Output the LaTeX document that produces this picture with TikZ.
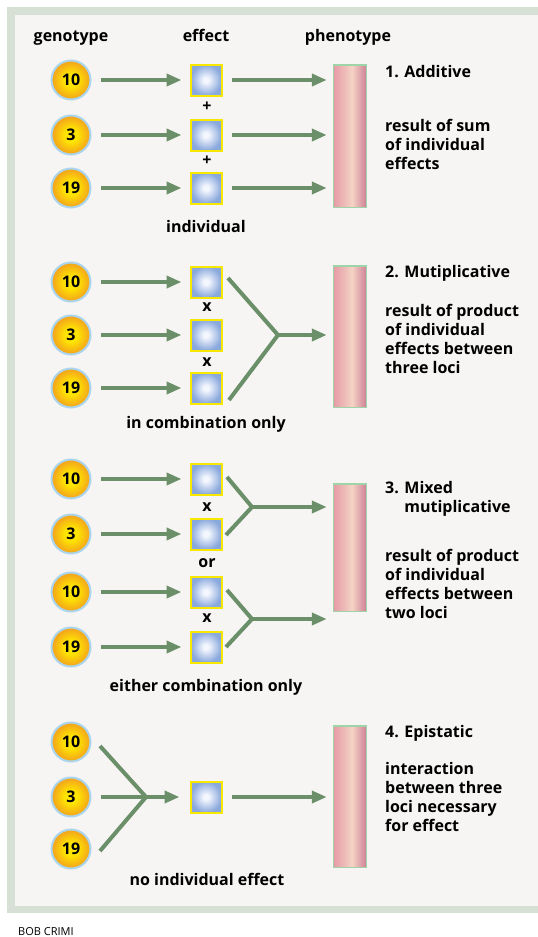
\documentclass[tikz,border=0pt]{standalone}
\usepackage{fontspec}
\setmainfont{Open Sans}
\usetikzlibrary{arrows.meta}

\definecolor{framegreen}{HTML}{D7E0D4}
\definecolor{panelbg}{HTML}{F6F5F3}
\definecolor{arrowgreen}{HTML}{6A8F69}
\definecolor{ringblue}{HTML}{AAD5EE}
\definecolor{ballin}{HTML}{FFE600}
\definecolor{ballout}{HTML}{F2A11E}
\definecolor{boxyellow}{HTML}{F8E800}
\definecolor{boxin}{HTML}{F4F7FE}
\definecolor{boxout}{HTML}{89A8DC}
\definecolor{barline}{HTML}{9ED4A7}
\definecolor{barl}{HTML}{E69AA6}
\definecolor{barm}{HTML}{F4D3C5}
\definecolor{barr}{HTML}{CE8096}

% shadings: the middle 50bp of each is what fills the shape
\pgfdeclareradialshading{ballshade}{\pgfpoint{0bp}{0bp}}{color(0bp)=(ballin); color(8bp)=(ballin); color(25bp)=(ballout); color(50bp)=(ballout)}
\pgfdeclareradialshading{boxshade}{\pgfpoint{0bp}{0bp}}{color(0bp)=(boxin); color(4bp)=(boxin); color(25bp)=(boxout); color(50bp)=(boxout)}
\pgfdeclarehorizontalshading{barshade}{100bp}{color(0bp)=(barl); color(25bp)=(barl); color(53bp)=(barm); color(75bp)=(barr); color(100bp)=(barr)}

\begin{document}
\begin{tikzpicture}[x=1pt, y=-1pt,
    every node/.style={font=\bfseries\fontsize{16}{19}\selectfont, inner sep=0pt},
    gene/.style={circle, minimum size=39pt, draw=ringblue, line width=2pt, shading=ballshade},
    effbox/.style={rectangle, minimum size=31pt, draw=boxyellow, line width=2pt, shading=boxshade},
    phenobar/.style={rectangle, minimum width=33pt, draw=barline, line width=1.5pt, shading=barshade},
    arr/.style={draw=arrowgreen, line width=4pt, -{Triangle[length=15pt,width=12pt]}},
    fork/.style={draw=arrowgreen, line width=4pt},
    desc/.style={anchor=base west, align=left}]
    \useasboundingbox (0,0) rectangle (538,937);
    % Frame
    \fill[white] (0,0) rectangle (538,937);
    \fill[framegreen] (7,7) rectangle (545,913);
    \fill[panelbg] (15,15) rectangle (545,906);
    % Fork coordinates
    \coordinate (f2a) at (228,278);
    \coordinate (f2b) at (229,400);
    \coordinate (j2) at (278,335);
    \coordinate (f3a) at (227,477);
    \coordinate (f3b) at (226,535);
    \coordinate (j3a) at (252,507);
    \coordinate (f3c) at (227,590);
    \coordinate (f3d) at (226,647);
    \coordinate (j3b) at (252,619);
    \coordinate (f4a) at (100,746);
    \coordinate (f4b) at (100,851);
    \coordinate (j4) at (146,797);
    % Headings
    \node[anchor=base] (hgen) at (71,41) {genotype};
    \node[anchor=base] (heff) at (206,41) {effect};
    \node[anchor=base] (hphen) at (348,41) {phenotype};

    % 1. Additive
    \node[gene] (g11) at (71,80) {10};
    \node[gene] (g12) at (71,135) {3};
    \node[gene] (g13) at (71,188) {19};
    \node[effbox] (e11) at (206,80) {};
    \node[effbox] (e12) at (206,135) {};
    \node[effbox] (e13) at (206,188) {};
    \node (op11) at (207,107) {+};
    \node (op12) at (207,161) {+};
    \node[phenobar, minimum height=142.5pt] (p1) at (350,136) {};
    \draw[arr, shorten <=9pt, shorten >=8pt] (g11) -- (e11);
    \draw[arr, shorten <=9pt, shorten >=8pt] (g12) -- (e12);
    \draw[arr, shorten <=9pt, shorten >=8pt] (g13) -- (e13);
    \draw[arr, shorten <=9pt, shorten >=6pt] (e11) -- (e11 -| p1.west);
    \draw[arr, shorten <=9pt, shorten >=6pt] (e12) -- (e12 -| p1.west);
    \draw[arr, shorten <=9pt, shorten >=6pt] (e13) -- (e13 -| p1.west);
    \node[anchor=base] (l1) at (206,232) {individual};
    \node[desc] (t1) at (385,77) {1. Additive};
    \node[desc] (d1) at (385,169) {result of sum\\of individual\\effects};

    % 2. Multiplicative
    \node[gene] (g21) at (71,282) {10};
    \node[gene] (g22) at (71,335) {3};
    \node[gene] (g23) at (71,388) {19};
    \node[effbox] (e21) at (206,282) {};
    \node[effbox] (e22) at (206,335) {};
    \node[effbox] (e23) at (206,388) {};
    \node (op21) at (207,307) {x};
    \node (op22) at (207,362) {x};
    \node[phenobar, minimum height=141.5pt] (p2) at (350,336.5) {};
    \draw[arr, shorten <=9pt, shorten >=8pt] (g21) -- (e21);
    \draw[arr, shorten <=9pt, shorten >=8pt] (g22) -- (e22);
    \draw[arr, shorten <=9pt, shorten >=8pt] (g23) -- (e23);
    \draw[fork] (f2a) -- (j2) -- (f2b);
    \draw[arr, shorten >=6pt] (j2) -- (j2 -| p2.west);
    \node[anchor=base] (l2) at (206,428) {in combination only};
    \node[desc] (t2) at (385,277) {2. Mutiplicative};
    \node[desc] (d2) at (385,373) {result of product\\of individual\\effects between\\three loci};

    % 3. Mixed multiplicative
    \node[gene] (g31) at (71,479) {10};
    \node[gene] (g32) at (71,534) {3};
    \node[gene] (g33) at (71,592) {10};
    \node[gene] (g34) at (71,647) {19};
    \node[effbox] (e31) at (206,479) {};
    \node[effbox] (e32) at (206,534) {};
    \node[effbox] (e33) at (206,592) {};
    \node[effbox] (e34) at (206,647) {};
    \node (op31) at (207,507) {x};
    \node (op32) at (207,563) {or};
    \node (op33) at (207,618) {x};
    \node[phenobar, minimum height=127.5pt] (p3) at (350,547.5) {};
    \draw[arr, shorten <=9pt, shorten >=8pt] (g31) -- (e31);
    \draw[arr, shorten <=9pt, shorten >=8pt] (g32) -- (e32);
    \draw[arr, shorten <=9pt, shorten >=8pt] (g33) -- (e33);
    \draw[arr, shorten <=9pt, shorten >=8pt] (g34) -- (e34);
    \draw[fork] (f3a) -- (j3a) -- (f3b);
    \draw[fork] (f3c) -- (j3b) -- (f3d);
    \draw[arr, shorten >=6pt] (j3a) -- (j3a -| p3.west);
    \draw[arr, shorten >=6pt] (j3b) -- (j3b -| p3.west);
    \node[anchor=base] (l3) at (206,691) {either combination only};
    \node[desc] (t3) at (385,512) {3. Mixed\\\phantom{3. }mutiplicative};
    \node[desc] (d3) at (385,618) {result of product\\of individual\\effects between\\two loci};

    % 4. Epistatic
    \node[gene] (g41) at (71,742) {10};
    \node[gene] (g42) at (71,797) {3};
    \node[gene] (g43) at (71,849) {19};
    \node[effbox] (e41) at (206,797) {};
    \node[phenobar, minimum height=141.5pt] (p4) at (350,796.5) {};
    \draw[fork] (f4a) -- (j4) -- (f4b);
    \draw[arr, shorten <=9pt, shorten >=10pt] (g42) -- (e41);
    \draw[arr, shorten <=9pt, shorten >=6pt] (e41) -- (e41 -| p4.west);
    \node[anchor=base] (l4) at (207,885) {no individual effect};
    \node[desc] (t4) at (385,737) {4. Epistatic};
    \node[desc] (d4) at (385,831) {interaction\\between three\\loci necessary\\for effect};

    % Credit
    \node[anchor=base west, font=\fontsize{11}{13}\selectfont] (credit) at (18,935) {BOB CRIMI};
\end{tikzpicture}
\end{document}
